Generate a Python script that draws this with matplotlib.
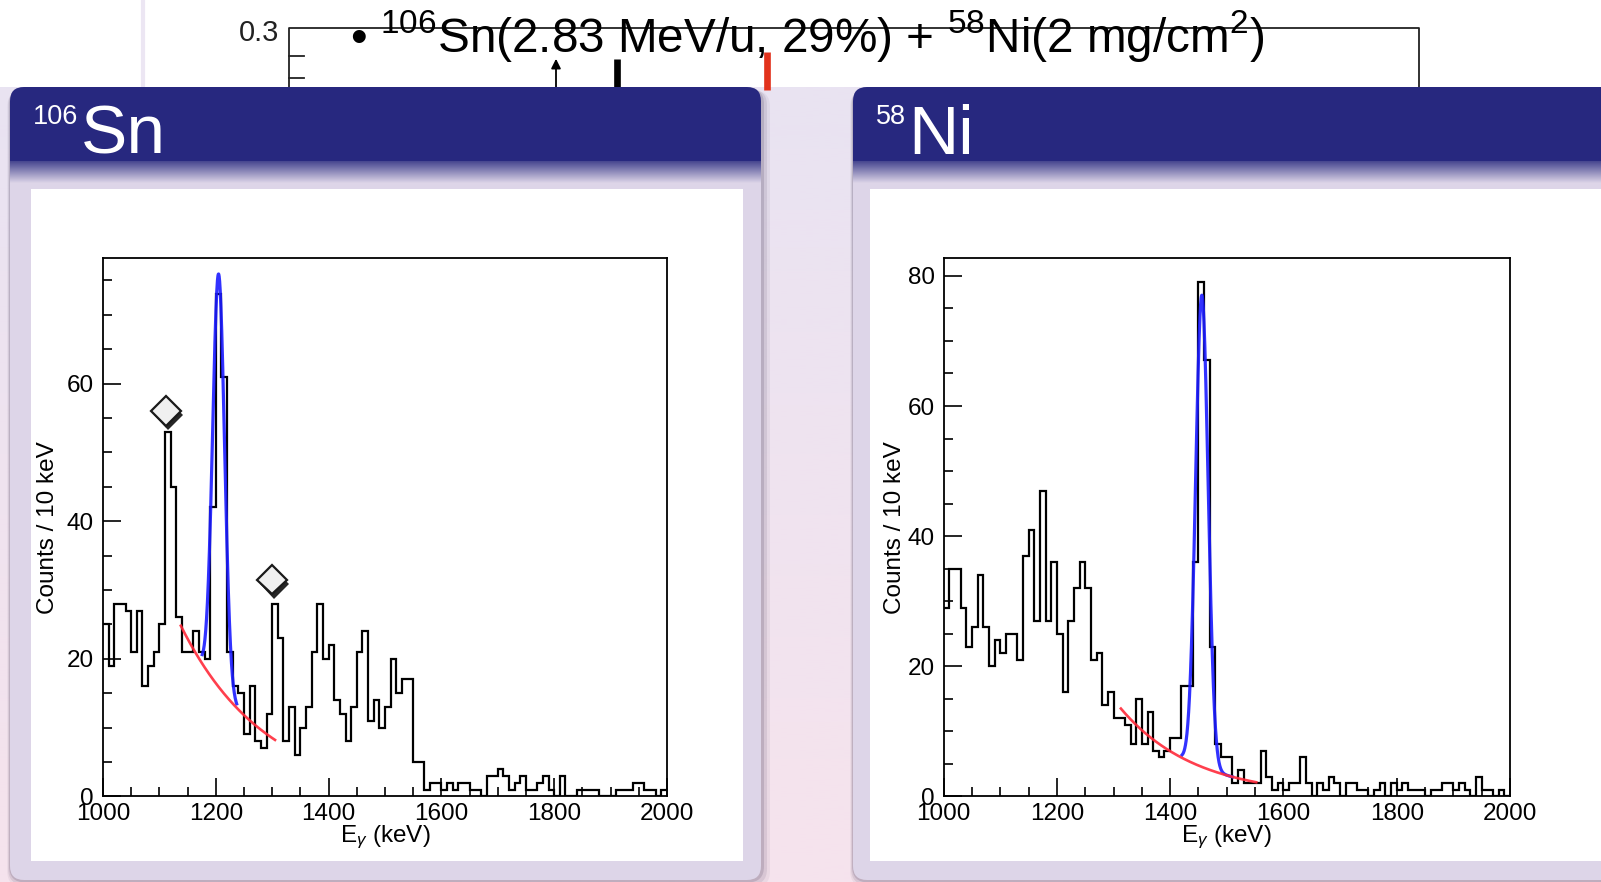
import numpy as np
import matplotlib
matplotlib.use("Agg")
import matplotlib.pyplot as plt
from matplotlib.patches import FancyBboxPatch, Rectangle
from matplotlib.colors import to_rgb
import matplotlib.patheffects as pe
from matplotlib.ticker import MultipleLocator

plt.rcParams['font.family'] = ['Liberation Sans', 'DejaVu Sans']
plt.rcParams['mathtext.fontset'] = 'custom'
plt.rcParams['mathtext.rm'] = 'Liberation Sans'
plt.rcParams['mathtext.it'] = 'Liberation Sans:italic'
plt.rcParams['mathtext.bf'] = 'Liberation Sans:bold'

# ---------------- data ----------------
bin_low_keV = list(range(1000, 2000, 10))

sn106_counts = [
    25, 19, 28, 28, 27, 21, 27, 16, 19, 21,
    25, 53, 45, 26, 21, 21, 24, 21, 20, 42,
    73, 61, 21, 16, 15, 9, 16, 8, 7, 12,
    28, 23, 8, 13, 6, 10, 13, 21, 28, 20,
    22, 14, 12, 8, 13, 21, 24, 11, 14, 10,
    13, 20, 15, 17, 17, 5, 5, 1, 2, 2,
    1, 2, 1, 2, 2, 1, 1, 0, 3, 3,
    4, 3, 1, 2, 3, 1, 1, 2, 3, 1,
    0, 3, 0, 0, 1, 1, 1, 1, 0, 0,
    0, 1, 1, 1, 2, 2, 1, 1, 0, 1,
]

ni58_counts = [
    29, 35, 35, 29, 23, 26, 34, 26, 20, 24,
    22, 25, 25, 21, 37, 41, 27, 47, 27, 36,
    25, 16, 27, 32, 36, 32, 21, 22, 14, 16,
    12, 12, 11, 8, 15, 8, 13, 7, 6, 7,
    9, 9, 17, 17, 36, 79, 67, 23, 8, 6,
    6, 2, 4, 2, 2, 2, 7, 3, 1, 2,
    1, 2, 2, 6, 2, 0, 2, 1, 3, 2,
    0, 2, 2, 1, 1, 0, 1, 2, 0, 2,
    1, 2, 1, 1, 1, 0, 1, 1, 2, 2,
    1, 2, 1, 0, 3, 1, 1, 0, 1, 0,
]

# fit parameters (exponential background + gaussian peak)
sn_bkg_ref_keV, sn_bkg_ref_counts, sn_bkg_decay_keV = 1138, 24.8, 151
sn_peak_keV, sn_peak_amp, sn_peak_sigma = 1205, 60, 10.5
sn_bkg_range = (1138, 1305)
sn_peak_range = (1176, 1237)

ni_bkg_ref_keV, ni_bkg_ref_counts, ni_bkg_decay_keV = 1313, 13.5, 131
ni_peak_keV, ni_peak_amp, ni_peak_sigma = 1456, 72.5, 11
ni_bkg_range = (1313, 1552)
ni_peak_range = (1421, 1510)

# contaminant markers in the 106Sn spectrum
sn_marker_keV = [1112, 1300]
sn_marker_counts = [56, 31.5]

x_ticks = [1000, 1200, 1400, 1600, 1800, 2000]

# ---------------- figure ----------------
W, H = 1601, 882
fig = plt.figure(figsize=(W / 100, H / 100), dpi=100)
bg = fig.add_axes([0, 0, 1, 1], zorder=0)
bg.axis('off')


def vgrad(x0, x1, y0, y1, c0, c1, z, clip=None):
    t = np.linspace(0, 1, 256)[:, None, None]
    img = np.array(to_rgb(c0)) * (1 - t) + np.array(to_rgb(c1)) * t
    im = bg.imshow(img, extent=(x0, x1, y1, y0), origin='upper', aspect='auto',
                   interpolation='bilinear', zorder=z)
    if clip is not None:
        im.set_clip_path(clip)
    return im


bg.add_patch(Rectangle((0, 0), W, H, fc='white', ec='none', zorder=0))
vgrad(0, W, 87, H, '#e9e3f2', '#f6e3ed', 0.5)

# underlying slide (partly hidden)
bg.plot([143, 143], [0, 87], color='#ece6f3', lw=3, zorder=0.8)
bg.plot([289, 289, 1419, 1419], [87, 28, 28, 87], color='#222222', lw=1.3, zorder=1)
for ty in (56, 78):
    bg.plot([289, 304], [ty, ty], color='#222222', lw=1.3, zorder=1)
bg.text(279, 33, '0.3', ha='right', va='center', fontsize=21, color='#222222', zorder=1)
bg.annotate('', xy=(556, 56), xytext=(556, 90),
            arrowprops=dict(arrowstyle='-|>', color='black', lw=1.3, mutation_scale=14), zorder=1)
bg.plot([617, 617], [59, 90], color='black', lw=4.8, zorder=1, solid_capstyle='butt')
bg.plot([767, 767], [52, 90], color='#e2321c', lw=4.8, zorder=1, solid_capstyle='butt')
bg.text(350, 52, r'• $^{106}$Sn(2.83 MeV/u, 29%) + $^{58}$Ni(2 mg/cm$^{2}$)',
        ha='left', va='baseline', fontsize=34.3, color='black', zorder=1.5)


def panel(x0, y0, x1, y1, ix0, iy0, ix1, iy1):
    for d, a in [(9, 0.06), (6, 0.10), (3, 0.16)]:
        sh = FancyBboxPatch((x0 - d * 0.3, y0 + d * 0.4), x1 - x0 + d * 1.3, y1 - y0 + d * 0.4,
                            boxstyle='round,pad=0,rounding_size=16', fc='#3b3050', ec='none',
                            alpha=a, zorder=1.8)
        bg.add_patch(sh)
    p = FancyBboxPatch((x0, y0), x1 - x0, y1 - y0, boxstyle='round,pad=0,rounding_size=14',
                       fc='#ddd5e8', ec='none', zorder=2)
    bg.add_patch(p)
    hdr = Rectangle((x0, y0), x1 - x0, 74, fc='#27287f', ec='none', zorder=2.1)
    bg.add_patch(hdr)
    hdr.set_clip_path(p)
    vgrad(x0, x1, y0 + 74, y0 + 96, '#45458f', '#ddd5e8', 2.1, clip=p)
    bg.add_patch(Rectangle((ix0, iy0), ix1 - ix0, iy1 - iy0, fc='white', ec='none', zorder=2.2))


panel(10, 87, 761, 880, 31, 189, 743, 861)
panel(853, 87, 1640, 880, 870, 189, 1601, 861)

bg.set_xlim(0, W)
bg.set_ylim(H, 0)


def header_title(x, mass, sym):
    t1 = bg.text(x, 124, mass, ha='left', va='baseline', fontsize=19.5, color='white', zorder=3)
    fig.canvas.draw()
    bb = t1.get_window_extent()
    bg.text(bb.x1 + 2, 154, sym, ha='left', va='baseline', fontsize=50, color='white', zorder=3)


header_title(33, '106', 'Sn')
header_title(876, '58', 'Ni')
bg.set_xlim(0, W)
bg.set_ylim(H, 0)


def exp_bkg(x, e0, c0, tau):
    return c0 * np.exp(-(x - e0) / tau)


def make_axes(x0px, x1px, ymax, counts, bkg, peak, bkg_rng, peak_rng, ylab_x):
    y0px, y1px = 258.3, 796.4
    ax = fig.add_axes([x0px / W, 1 - y1px / H, (x1px - x0px) / W, (y1px - y0px) / H], zorder=5)
    ax.set_facecolor('none')
    edges = np.append(bin_low_keV, bin_low_keV[-1] + 10)
    ax.stairs(counts, edges, color='black', lw=1.6, baseline=None, zorder=3)
    xb = np.linspace(bkg_rng[0], bkg_rng[1], 300)
    xp = np.linspace(peak_rng[0], peak_rng[1], 300)
    e0, c0, tau = bkg
    pk, pa, ps = peak
    ax.plot(xp, exp_bkg(xp, e0, c0, tau) + pa * np.exp(-0.5 * ((xp - pk) / ps) ** 2),
            color='#1c1cff', lw=2.3, zorder=4, alpha=0.9)
    ax.plot(xb, exp_bkg(xb, e0, c0, tau), color='#ff2a3a', lw=1.9, zorder=5, alpha=0.9)
    ax.set_xlim(1000, 2000)
    ax.set_ylim(0, ymax)
    for s in ax.spines.values():
        s.set_linewidth(1.3)
        s.set_color('black')
    ax.xaxis.set_major_locator(MultipleLocator(200))
    ax.xaxis.set_minor_locator(MultipleLocator(50))
    ax.yaxis.set_major_locator(MultipleLocator(20))
    ax.yaxis.set_minor_locator(MultipleLocator(5))
    ax.set_xticks(x_ticks)
    ax.tick_params(which='both', direction='in', top=False, right=False, width=1.2,
                   labelsize=17.5, colors='black')
    ax.tick_params(which='major', length=13)
    ax.tick_params(which='minor', length=6.5)
    ax.tick_params(axis='x', which='major', pad=5)
    ax.tick_params(axis='y', which='major', pad=6.5)
    ax.text((ylab_x - x0px) / (x1px - x0px), 0.5, 'Counts / 10 keV', rotation=90,
            ha='center', va='center', transform=ax.transAxes, fontsize=17.5)
    ax.text(0.5, (y1px - 837) / (y1px - y0px), r'E$_{\gamma}$ (keV)', ha='center', va='center',
            transform=ax.transAxes, fontsize=17.5)
    return ax


ax_sn = make_axes(103, 667, 78.2, sn106_counts,
                  (sn_bkg_ref_keV, sn_bkg_ref_counts, sn_bkg_decay_keV),
                  (sn_peak_keV, sn_peak_amp, sn_peak_sigma), sn_bkg_range, sn_peak_range, 48)
ax_ni = make_axes(943.6, 1510, 82.7, ni58_counts,
                  (ni_bkg_ref_keV, ni_bkg_ref_counts, ni_bkg_decay_keV),
                  (ni_peak_keV, ni_peak_amp, ni_peak_sigma), ni_bkg_range, ni_peak_range, 895)

ax_sn.plot(sn_marker_keV, sn_marker_counts, linestyle='none', marker='D', ms=15,
           mfc='#f0f0f0', mec='#1a1a1a', mew=1.6, zorder=6,
           path_effects=[pe.SimplePatchShadow(offset=(1.5, -3), shadow_rgbFace='black', alpha=0.85),
                         pe.Normal()])

fig.savefig('out.png', dpi=100)
